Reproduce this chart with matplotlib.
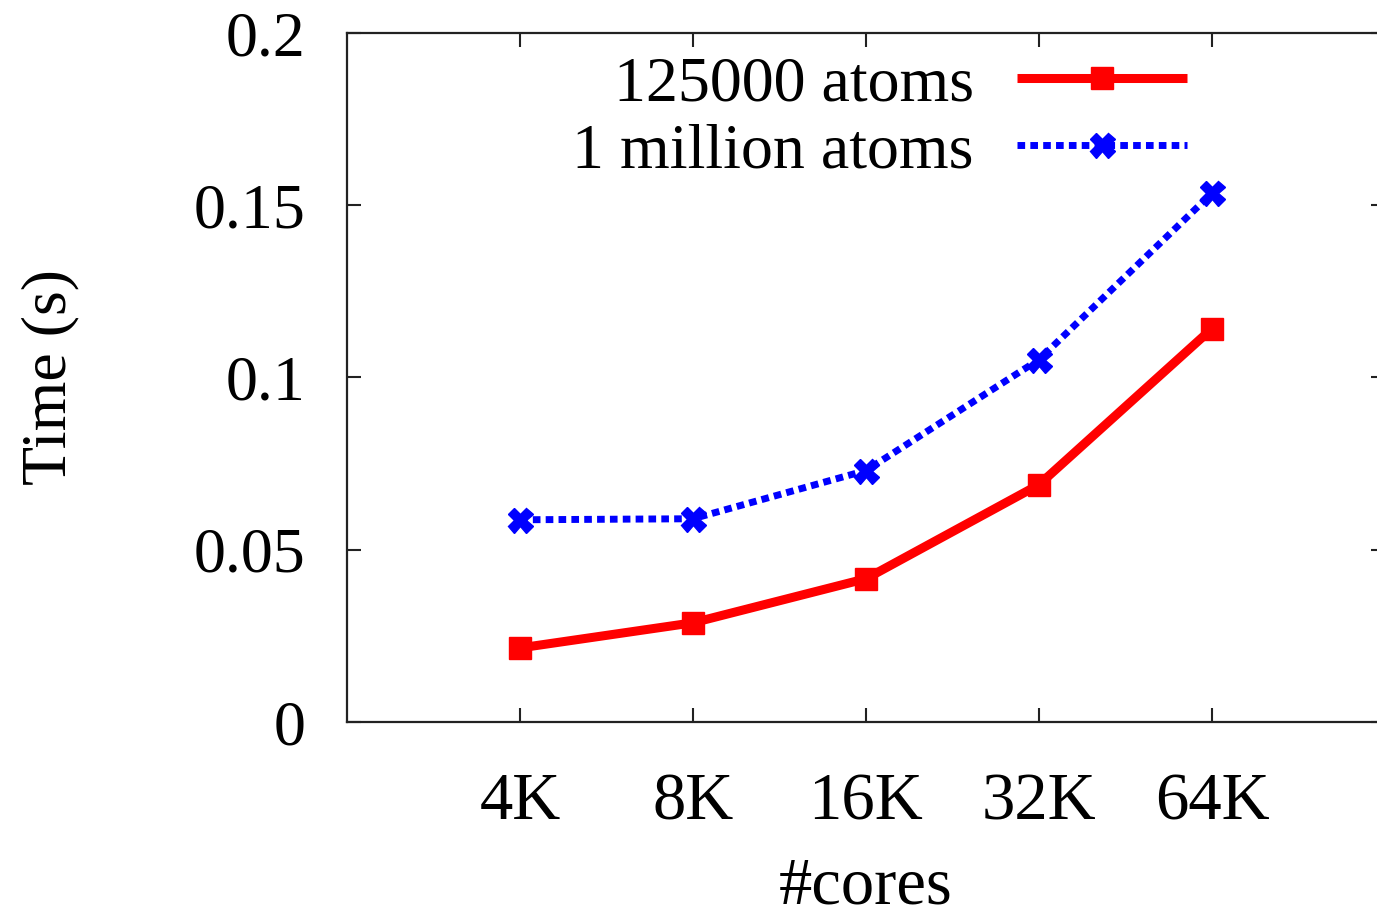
import matplotlib
matplotlib.use("Agg")
import matplotlib.pyplot as plt

categories = ["4K", "8K", "16K", "32K", "64K"]
atoms_125k = [0.0215, 0.0288, 0.0416, 0.0689, 0.1142]
atoms_1m = [0.0587, 0.0590, 0.0730, 0.1052, 0.1535]
yticks = [0, 0.05, 0.1, 0.15, 0.2]
ytick_labels = ["0", "0.05", "0.1", "0.15", "0.2"]

plt.rcParams['font.family'] = ['Liberation Serif', 'DejaVu Serif']

fig = plt.figure(figsize=(13.77, 9.13), dpi=100)
W, H = 1377, 913
left, right, top, bottom = 347, 1385, 33, 722
ax = fig.add_axes([left / W, 1 - bottom / H, (right - left) / W, (bottom - top) / H])

x = list(range(1, len(categories) + 1))
ax.plot(x, atoms_125k, color='#ff0000', lw=6.5, marker='s', ms=16,
        label='125000 atoms', solid_capstyle='butt')
ax.plot(x, atoms_1m, color='#0000ff', lw=5, marker='X', ms=18,
        linestyle=(0, (1.1, 0.75)), dash_capstyle='butt', label='1 million atoms')

ax.set_xlim(0, 6)
ax.set_ylim(0, 0.2)
ax.set_xticks(x)
ax.set_xticklabels(categories, fontsize=48)
ax.set_yticks(yticks)
ax.set_yticklabels(ytick_labels, fontsize=46)
ax.tick_params(direction='in', length=10, width=1.5, top=True, right=True,
               color='#222222')
ax.tick_params(axis='x', pad=36)
ax.tick_params(axis='y', pad=30)
for s in ax.spines.values():
    s.set_linewidth(1.6)
    s.set_color('#222222')

ax.set_xlabel('#cores', fontsize=48, labelpad=17)
ax.set_ylabel('Time (s)', fontsize=46, labelpad=82)

leg = ax.legend(loc='upper right',
                bbox_to_anchor=((1193 - left) / (right - left), 1 - 16 / (bottom - top)),
                markerfirst=False, frameon=False, fontsize=46, handlelength=2.66,
                handletextpad=0.67, labelspacing=0.13, borderpad=0.1, borderaxespad=0.0)

fig.savefig('out.png', dpi=100)
